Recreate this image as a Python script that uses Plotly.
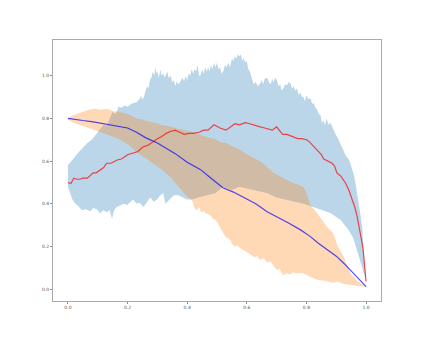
import plotly.graph_objects as go

# red mean curve
red_x = [0, 0.01, 0.02, 0.03, 0.04, 0.05, 0.065, 0.075, 0.085, 0.095,
         0.11, 0.12, 0.13, 0.145, 0.165, 0.18, 0.2, 0.215, 0.235, 0.25,
         0.27, 0.285, 0.3, 0.315, 0.33, 0.345, 0.36, 0.375, 0.39, 0.405,
         0.42, 0.44, 0.455, 0.47, 0.49, 0.51, 0.53, 0.545, 0.56, 0.575,
         0.595, 0.61, 0.63, 0.645, 0.66, 0.675, 0.685, 0.7, 0.72, 0.735,
         0.745, 0.76, 0.77, 0.785, 0.8, 0.81, 0.82, 0.83, 0.84, 0.85,
         0.858, 0.87, 0.886, 0.895, 0.902, 0.915, 0.93, 0.942, 0.953, 0.962,
         0.97, 0.976, 0.981, 0.986, 0.99, 0.995, 1.0]
red_y = [0.50, 0.495, 0.52, 0.515, 0.515, 0.52, 0.52, 0.535, 0.545, 0.545,
         0.56, 0.57, 0.59, 0.59, 0.605, 0.61, 0.63, 0.635, 0.645, 0.665,
         0.675, 0.69, 0.705, 0.715, 0.73, 0.74, 0.745, 0.735, 0.725, 0.73,
         0.73, 0.735, 0.745, 0.745, 0.77, 0.755, 0.745, 0.76, 0.775, 0.77,
         0.78, 0.775, 0.765, 0.76, 0.755, 0.75, 0.745, 0.76, 0.725, 0.725,
         0.72, 0.71, 0.705, 0.705, 0.70, 0.69, 0.675, 0.665, 0.645, 0.63,
         0.61, 0.60, 0.59, 0.575, 0.545, 0.53, 0.50, 0.465, 0.42, 0.385,
         0.34, 0.30, 0.26, 0.22, 0.185, 0.11, 0.036]

# blue mean curve
blue_x = [0, 0.02, 0.05, 0.08, 0.1, 0.13, 0.16, 0.2, 0.23, 0.26,
          0.3, 0.33, 0.36, 0.4, 0.445, 0.48, 0.52, 0.555, 0.59, 0.63,
          0.668, 0.7, 0.74, 0.78, 0.81, 0.84, 0.87, 0.9, 0.925, 0.95,
          0.975, 1.0]
blue_y = [0.80, 0.795, 0.79, 0.785, 0.78, 0.775, 0.765, 0.755, 0.735, 0.71,
          0.685, 0.66, 0.635, 0.595, 0.56, 0.52, 0.475, 0.455, 0.43, 0.40,
          0.363, 0.34, 0.31, 0.278, 0.25, 0.215, 0.185, 0.155, 0.122, 0.085,
          0.05, 0.012]

# spread around the red curve (C0 band)
c0_up_x = [0.0, 0.01, 0.02, 0.035, 0.05, 0.065, 0.08, 0.095, 0.105, 0.11,
           0.12, 0.13, 0.14, 0.15, 0.16, 0.17, 0.18, 0.19, 0.2, 0.215,
           0.23, 0.24, 0.245, 0.25, 0.255, 0.26, 0.265, 0.27, 0.275, 0.28,
           0.285, 0.29, 0.293, 0.297, 0.3, 0.305, 0.31, 0.315, 0.32, 0.325,
           0.333, 0.338, 0.345, 0.35, 0.355, 0.36, 0.365, 0.37, 0.377, 0.383,
           0.39, 0.395, 0.4, 0.405, 0.41, 0.415, 0.42, 0.425, 0.43, 0.435,
           0.44, 0.444, 0.45, 0.455, 0.46, 0.466, 0.47, 0.475, 0.48, 0.485,
           0.49, 0.495, 0.5, 0.505, 0.51, 0.515, 0.521, 0.527, 0.532, 0.538,
           0.544, 0.55, 0.555, 0.56, 0.565, 0.57, 0.575, 0.58, 0.585, 0.59,
           0.595, 0.6, 0.605, 0.61, 0.617, 0.623, 0.63, 0.637, 0.645, 0.65,
           0.655, 0.66, 0.668, 0.674, 0.68, 0.685, 0.69, 0.695, 0.701, 0.706,
           0.712, 0.717, 0.722, 0.728, 0.735, 0.74, 0.746, 0.752, 0.757, 0.762,
           0.768, 0.774, 0.78, 0.785, 0.79, 0.795, 0.8, 0.806, 0.813, 0.819,
           0.825, 0.83, 0.836, 0.841, 0.847, 0.852, 0.857, 0.862, 0.868, 0.874,
           0.88, 0.885, 0.89, 0.896, 0.903, 0.908, 0.914, 0.919, 0.924, 0.93,
           0.935, 0.941, 0.947, 0.952, 0.956, 0.96, 0.964, 0.969, 0.974, 0.978,
           0.981, 0.984, 0.987, 0.99, 0.994, 0.997, 1.0]
c0_up_y = [0.58, 0.60, 0.615, 0.64, 0.665, 0.685, 0.70, 0.725, 0.74, 0.75,
           0.77, 0.765, 0.80, 0.83, 0.82, 0.855, 0.85, 0.86, 0.855, 0.87,
           0.875, 0.89, 0.905, 0.89, 0.90, 0.93, 0.95, 0.94, 0.98, 0.99,
           1.02, 1.00, 1.04, 1.01, 1.02, 0.99, 1.03, 1.0, 1.01, 0.99,
           1.02, 0.99, 1.0, 0.97, 0.98, 0.95, 0.975, 0.96, 0.97, 0.99,
           0.975, 1.0, 0.98, 1.01, 1.0, 1.03, 1.01, 1.03, 1.02, 1.05,
           1.0, 1.0, 1.03, 1.01, 1.04, 1.02, 1.04, 1.02, 1.05, 1.03,
           1.06, 1.04, 1.06, 1.03, 1.04, 1.01, 1.02, 1.05, 1.04, 1.06,
           1.04, 1.08, 1.07, 1.09, 1.08, 1.10, 1.09, 1.10, 1.07, 1.08,
           1.06, 1.07, 1.03, 1.02, 0.98, 0.96, 0.97, 0.95, 0.965, 0.98,
           0.96, 0.985, 0.99, 0.97, 0.96, 0.985, 0.97, 0.99, 0.98, 0.95,
           0.96, 0.93, 0.94, 0.96, 0.955, 0.97, 0.965, 0.94, 0.95, 0.93,
           0.94, 0.91, 0.92, 0.90, 0.90, 0.88, 0.91, 0.89, 0.895, 0.87,
           0.87, 0.85, 0.84, 0.82, 0.815, 0.78, 0.79, 0.77, 0.80, 0.77,
           0.78, 0.76, 0.75, 0.73, 0.715, 0.70, 0.68, 0.66, 0.65, 0.63,
           0.62, 0.61, 0.59, 0.57, 0.55, 0.53, 0.50, 0.46, 0.42, 0.39,
           0.35, 0.32, 0.29, 0.22, 0.15, 0.09, 0.036]
c0_lo_x = [0.0, 0.008, 0.015, 0.025, 0.035, 0.047, 0.06, 0.075, 0.085, 0.097,
           0.108, 0.118, 0.13, 0.14, 0.148, 0.155, 0.164, 0.175, 0.188, 0.198,
           0.21, 0.219, 0.23, 0.24, 0.253, 0.265, 0.276, 0.288, 0.299, 0.31,
           0.32, 0.327, 0.34, 0.355, 0.37, 0.385, 0.4, 0.416, 0.437, 0.46,
           0.494, 0.52, 0.55, 0.575, 0.605, 0.64, 0.67, 0.7, 0.73, 0.76,
           0.79, 0.813, 0.846, 0.88, 0.914, 0.94, 0.957, 0.97, 0.986, 1.0]
c0_lo_y = [0.48, 0.45, 0.42, 0.40, 0.39, 0.37, 0.375, 0.365, 0.38, 0.375,
           0.355, 0.37, 0.36, 0.37, 0.33, 0.37, 0.385, 0.39, 0.40, 0.395,
           0.41, 0.42, 0.40, 0.405, 0.385, 0.41, 0.43, 0.41, 0.42, 0.44,
           0.45, 0.40, 0.42, 0.44, 0.44, 0.43, 0.42, 0.42, 0.43, 0.44,
           0.45, 0.48, 0.465, 0.48, 0.47, 0.46, 0.45, 0.43, 0.42, 0.41,
           0.40, 0.39, 0.375, 0.357, 0.325, 0.28, 0.24, 0.18, 0.105, 0.036]

# spread around the blue curve (C1 band)
c1_up_x = [0.0, 0.01, 0.03, 0.05, 0.07, 0.09, 0.11, 0.13, 0.15, 0.17,
           0.19, 0.21, 0.23, 0.25, 0.27, 0.29, 0.31, 0.33, 0.35, 0.37,
           0.39, 0.41, 0.43, 0.45, 0.47, 0.49, 0.51, 0.53, 0.55, 0.57,
           0.59, 0.61, 0.63, 0.65, 0.67, 0.69, 0.71, 0.73, 0.75, 0.77,
           0.79, 0.8, 0.813, 0.836, 0.857, 0.87, 0.89, 0.905, 0.925, 0.947,
           0.97, 1.0]
c1_up_y = [0.80, 0.81, 0.82, 0.83, 0.84, 0.845, 0.84, 0.845, 0.835, 0.83,
           0.825, 0.815, 0.80, 0.795, 0.785, 0.78, 0.77, 0.765, 0.76, 0.75,
           0.745, 0.74, 0.73, 0.72, 0.71, 0.705, 0.69, 0.685, 0.67, 0.66,
           0.64, 0.625, 0.61, 0.595, 0.57, 0.545, 0.53, 0.515, 0.50, 0.49,
           0.48, 0.45, 0.395, 0.356, 0.317, 0.29, 0.262, 0.20, 0.153, 0.075,
           0.04, 0.012]
c1_lo_x = [0.0, 0.02, 0.04, 0.06, 0.085, 0.1, 0.119, 0.14, 0.16, 0.176,
           0.2, 0.232, 0.26, 0.287, 0.315, 0.343, 0.36, 0.377, 0.395, 0.416,
           0.425, 0.433, 0.44, 0.447, 0.455, 0.461, 0.47, 0.478, 0.486, 0.494,
           0.502, 0.51, 0.518, 0.528, 0.536, 0.544, 0.552, 0.561, 0.568, 0.575,
           0.582, 0.588, 0.596, 0.605, 0.615, 0.625, 0.635, 0.645, 0.652, 0.66,
           0.668, 0.679, 0.69, 0.701, 0.71, 0.722, 0.734, 0.746, 0.755, 0.765,
           0.78, 0.79, 0.81, 0.836, 0.86, 0.891, 0.903, 0.925, 0.947, 0.975,
           1.0]
c1_lo_y = [0.795, 0.78, 0.77, 0.76, 0.745, 0.74, 0.73, 0.72, 0.71, 0.70,
           0.68, 0.64, 0.615, 0.59, 0.56, 0.527, 0.50, 0.47, 0.44, 0.418,
           0.38, 0.37, 0.385, 0.36, 0.365, 0.357, 0.35, 0.345, 0.33, 0.325,
           0.31, 0.293, 0.27, 0.246, 0.24, 0.231, 0.21, 0.20, 0.205, 0.195,
           0.19, 0.184, 0.175, 0.169, 0.16, 0.15, 0.155, 0.137, 0.145, 0.14,
           0.125, 0.13, 0.11, 0.09, 0.095, 0.065, 0.075, 0.07, 0.08, 0.075,
           0.076, 0.075, 0.06, 0.044, 0.04, 0.03, 0.036, 0.025, 0.02, 0.015,
           0.012]

tick_vals = [0.0, 0.2, 0.4, 0.6, 0.8, 1.0]
tick_text = ["0.0", "0.2", "0.4", "0.6", "0.8", "1.0"]


def band(up_x, up_y, lo_x, lo_y, color):
    return go.Scatter(
        x=list(up_x) + list(reversed(lo_x)),
        y=list(up_y) + list(reversed(lo_y)),
        fill="toself",
        fillcolor=color,
        line=dict(width=0),
        mode="lines",
        hoverinfo="skip",
        showlegend=False,
    )


fig = go.Figure()
fig.add_trace(band(c0_up_x, c0_up_y, c0_lo_x, c0_lo_y, "rgba(31,119,180,0.3)"))
fig.add_trace(band(c1_up_x, c1_up_y, c1_lo_x, c1_lo_y, "rgba(255,127,14,0.3)"))
fig.add_trace(go.Scatter(x=red_x, y=red_y, mode="lines",
                         line=dict(color="rgba(255,0,0,0.7)", width=1.2), showlegend=False))
fig.add_trace(go.Scatter(x=blue_x, y=blue_y, mode="lines",
                         line=dict(color="rgba(0,0,255,0.7)", width=1.2), showlegend=False))

axis_style = dict(
    showgrid=False, zeroline=False, showline=True, mirror=True,
    linecolor="#aaaaaa", linewidth=1,
    ticks="outside", ticklen=2, tickcolor="#888888",
    tickvals=tick_vals, ticktext=tick_text,
    tickfont=dict(family="DejaVu Sans", size=4.5, color="#555555"),
)
fig.update_xaxes(range=[-0.05, 1.05], **axis_style)
fig.update_yaxes(range=[-0.055, 1.167], **axis_style)
# page body adds an 8px margin, so the figure is shrunk to fit the window
fig.update_layout(
    width=407, height=322,
    margin=dict(l=45, r=34, t=32, b=29),
    plot_bgcolor="white", paper_bgcolor="white",
    showlegend=False,
)

fig.write_html("out.html")
